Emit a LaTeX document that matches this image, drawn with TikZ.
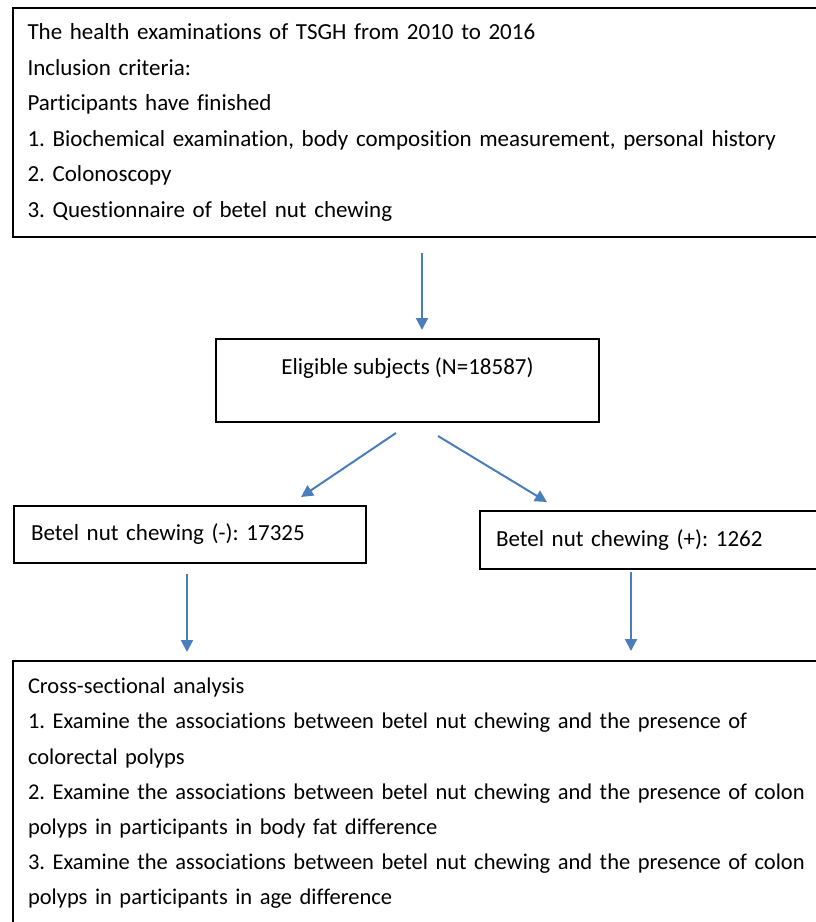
\documentclass[tikz,border=0pt]{standalone}
\usepackage{fontspec}
\setmainfont{Carlito}[Ligatures=NoCommon]
\usepackage{tikz}
\usetikzlibrary{arrows.meta,positioning,calc}
\definecolor{flowblue}{HTML}{4A7EBB}

\tikzset{
  box/.style={draw, line width=2pt, font=\fontsize{23}{35.5}\selectfont, inner ysep=0pt},
  flow/.style={-{Triangle[length=12pt,width=12pt]}, line width=2pt, flowblue}
}

\begin{document}
\frenchspacing
\begin{tikzpicture}[x=1pt,y=-1pt]
  \useasboundingbox (0,0) rectangle (816,922);
  \node[box, anchor=north west, text width=789pt, inner xsep=15pt, minimum height=229pt, align=left] (top) at (11.5,7)
    {The health examinations of TSGH from 2010 to 2016\\
     Inclusion criteria:\\
     Participants have finished\\
     1. Biochemical examination, body composition measurement, personal history\\
     2. Colonoscopy\\
     3. Questionnaire of betel nut chewing};
  \node[box, anchor=north west, minimum width=383pt, text height=25pt, text depth=38pt, inner ysep=10pt] (elig) at (215,338)
    {Eligible subjects (N=18587)};
  \node[box, anchor=north west, text width=318pt, inner xsep=17pt, minimum height=57pt, align=left] (nneg) at (13,505)
    {Betel nut chewing (-): 17325};
  \node[box, anchor=north west, text width=400pt, inner xsep=16pt, minimum height=58pt, align=left] (npos) at (479,510)
    {Betel nut chewing (+): 1262};
  \node[box, font=\fontsize{22.5}{35.2}\selectfont, anchor=north west, text width=800pt, inner xsep=15pt, minimum height=265pt, align=left] (cross) at (12,660)
    {Cross-sectional analysis\\
     1. Examine the associations between betel nut chewing and the presence of\\
     colorectal polyps\\
     2. Examine the associations between betel nut chewing and the presence of colon\\
     polyps in participants in body fat difference\\
     3. Examine the associations between betel nut chewing and the presence of colon\\
     polyps in participants in age difference};

  % arrows
  \draw[flow, shorten <=15pt, shorten >=8pt] (top.south) -- (top.south |- elig.north);
  \draw[flow] ($(elig.south)+(-11.5,10)$) -- ($(nneg.north east)+(-66,-8)$);
  \draw[flow] ($(elig.south)+(30.5,13)$) -- ($(npos.north west)+(68,-8)$);
  \coordinate (nd) at ([xshift=-3pt]nneg.south);
  \coordinate (pd) at ([xshift=152pt]npos.south west);
  \draw[flow, shorten <=10pt, shorten >=8pt] (nd) -- (nd |- cross.north);
  \draw[flow, shorten <=2pt, shorten >=9pt] (pd) -- (pd |- cross.north);
\end{tikzpicture}
\end{document}
